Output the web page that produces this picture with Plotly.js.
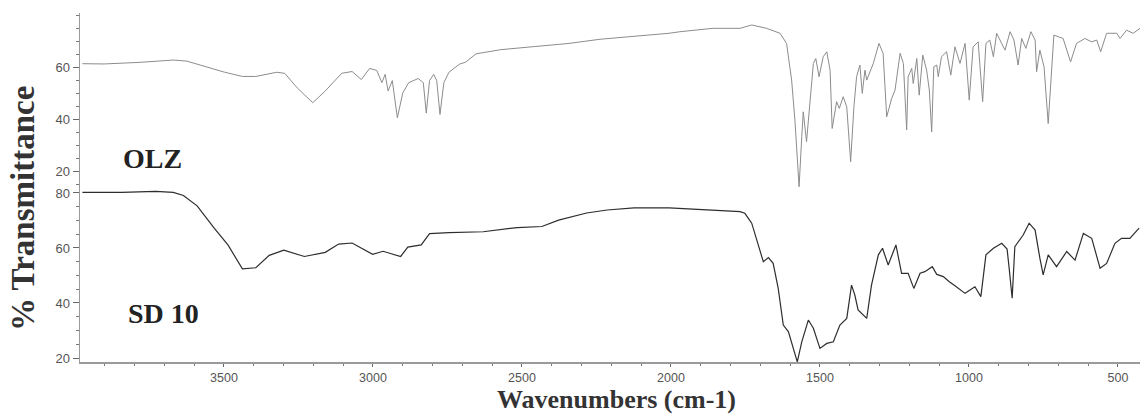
<!DOCTYPE html>
<html>
<head>
<meta charset="utf-8">
<script src="https://cdn.plot.ly/plotly-3.0.1.min.js"></script>
<style>html,body{margin:0;padding:0;background:#fff;}#chart{width:1140px;height:416px;}</style>
</head>
<body>
<div id="chart"></div>
<script>
// OLZ spectrum (top panel): wavenumber (cm-1) and % transmittance
const olzWave = [3975,3902,3785,3670,3625,3556,3497,3438,3393,3323,3296,3254,3202,3160,3105,3070,3039,3011,2987,2970,2959,2949,2935,2918,2900,2880,2848,2831,2821,2810,2796,2786,2775,2762,2745,2710,2689,2654,2571,2457,2342,2238,2124,2006,1970,1859,1768,1729,1679,1634,1612,1595,1584,1570,1561,1556,1545,1534,1522,1514,1503,1489,1477,1466,1459,1444,1435,1422,1410,1397,1386,1377,1366,1358,1349,1343,1321,1302,1288,1276,1259,1248,1231,1220,1209,1204,1192,1187,1175,1167,1155,1142,1133,1125,1118,1108,1103,1092,1075,1061,1047,1030,1013,999,986,969,954,943,930,918,907,879,862,849,835,823,809,792,778,773,762,748,734,715,684,659,639,611,588,571,558,538,504,493,471,449,426];
const olzT = [61.3,61.2,61.8,62.7,62.3,59.9,58.0,56.4,56.4,58.0,57.6,52.0,46.3,50.8,57.6,58.3,55.2,59.5,58.7,54.0,57.2,50.8,54.8,40.5,50.0,54.0,55.6,54.0,42.3,54.8,57.2,54.8,41.8,54.0,58.0,61.1,61.9,65.1,66.7,67.9,69.1,70.7,71.8,73.0,73.6,74.9,74.9,76.2,74.9,73.0,69.1,55.0,39.6,14.0,33.2,42.8,31.3,46.2,61.4,63.3,56.3,64.0,65.9,58.8,36.4,46.7,44.1,48.6,44.7,23.6,44.7,56.3,60.8,49.9,58.8,55.0,61.4,69.1,65.3,40.9,48.0,51.2,65.3,61.4,35.8,56.3,59.5,53.7,63.3,49.2,64.6,58.8,51.2,35.1,60.1,60.8,56.3,64.0,65.9,56.9,67.8,61.4,69.1,47.3,67.8,69.7,46.7,69.1,70.4,64.0,73.0,66.5,73.6,70.4,60.8,71.0,67.2,73.6,70.4,58.2,66.5,60.1,38.3,72.3,71.0,62.0,69.1,71.0,69.7,70.4,65.9,73.0,73.0,71.0,74.2,73.0,74.9];

// SD 10 spectrum (bottom panel)
const sdWave = [3975,3843,3729,3670,3636,3590,3532,3486,3438,3393,3348,3299,3230,3160,3115,3070,3001,2966,2907,2883,2838,2810,2745,2630,2516,2433,2377,2283,2214,2124,2006,1970,1858,1768,1752,1729,1707,1690,1673,1657,1640,1623,1606,1590,1576,1561,1539,1522,1500,1477,1455,1433,1410,1394,1383,1372,1343,1327,1304,1290,1271,1245,1226,1204,1185,1164,1148,1123,1108,1086,1066,1047,1013,980,960,943,918,890,872,865,855,846,818,798,778,762,751,734,706,672,644,616,588,560,538,510,488,460,429];
const sdT = [80.2,80.2,80.6,80.2,79.1,75.3,67.1,61.0,52.4,52.8,57.3,59.2,56.9,58.4,61.4,61.8,57.7,58.8,56.9,60.3,61.1,65.2,65.6,65.9,67.4,67.8,70.1,72.7,73.8,74.6,74.6,74.4,73.8,73.2,72.6,69.0,61.1,55.0,56.5,54.4,45.3,32.0,29.6,23.5,18.6,25.9,33.8,30.8,23.5,25.3,25.9,32.0,34.4,46.5,42.9,37.5,34.4,46.5,57.5,59.9,53.8,61.1,50.8,50.8,45.3,50.8,51.4,53.2,50.4,49.6,47.7,46.3,43.5,45.9,42.3,57.5,59.9,61.7,59.6,52.6,41.7,60.5,64.7,69.0,66.5,56.3,50.2,57.5,53.2,58.7,55.6,65.3,63.5,52.6,54.4,61.7,63.5,63.5,67.2];

// Tick labels and text
const xTicks = [3500,3000,2500,2000,1500,1000,500];
const yTicksTop = [20,40,60];
const yTicksBottom = [20,40,60,80];
const labelTop = "OLZ";
const labelBottom = "SD 10";
const xTitle = "Wavenumbers (cm-1)";
const yTitle = "% Transmittance";

const traces = [
  {x: olzWave, y: olzT, type: 'scatter', mode: 'lines', xaxis: 'x', yaxis: 'y2',
   line: {color: '#8c8c8c', width: 1}, hoverinfo: 'skip'},
  {x: sdWave, y: sdT, type: 'scatter', mode: 'lines', xaxis: 'x', yaxis: 'y',
   line: {color: '#2e2e2e', width: 1.2}, hoverinfo: 'skip'}
];

const tickFont = {family: 'Liberation Sans, Arial, sans-serif', size: 13, color: '#555'};
const xTickFont = {family: 'Liberation Sans, Arial, sans-serif', size: 12.5, color: '#555'};
const split = 0.4986;
const yCommon = {
  showline: true, linecolor: '#9a9a9a', linewidth: 1.5, showgrid: false, zeroline: false,
  ticks: 'outside', ticklen: 6, tickcolor: '#666', tickfont: tickFont,
  minor: {dtick: 5, ticks: 'outside', ticklen: 3, tickcolor: '#777'}, anchor: 'x'
};

const layout = {
  width: 1140, height: 416,
  margin: {l: 80, r: 0, t: 13, b: 54},
  paper_bgcolor: '#fff', plot_bgcolor: '#fff',
  showlegend: false,
  xaxis: {
    range: [3983, 426], tickvals: xTicks, ticktext: xTicks.map(String),
    showline: true, linecolor: '#9a9a9a', linewidth: 1.5, showgrid: false, zeroline: false,
    ticks: 'outside', ticklen: 3, tickcolor: '#666', tickfont: xTickFont, ticklabelstandoff: 0,
    minor: {dtick: 100, ticks: 'outside', ticklen: 2, tickcolor: '#777'}, anchor: 'y'
  },
  yaxis: Object.assign({}, yCommon, {domain: [0, split], range: [18.55, 81.8], tickvals: yTicksBottom}),
  yaxis2: Object.assign({}, yCommon, {domain: [split, 1], range: [13.5, 80.8], tickvals: yTicksTop}),
  annotations: [
    {text: yTitle, xref: 'paper', yref: 'paper', x: -0.0538, y: 0.441, xanchor: 'center', yanchor: 'middle',
     textangle: -90, showarrow: false, font: {family: 'Liberation Serif, Times New Roman, serif', size: 33, color: '#333', weight: 'bold'}},
    {text: xTitle, xref: 'paper', yref: 'paper', x: 0.506, y: -0.1547, xanchor: 'center', yanchor: 'bottom',
     showarrow: false, font: {family: 'Liberation Serif, Times New Roman, serif', size: 26, color: '#333', weight: 'bold'}},
    {text: labelTop, xref: 'paper', yref: 'paper', x: 0.068, y: 0.5845, xanchor: 'center', yanchor: 'middle',
     showarrow: false, font: {family: 'Liberation Serif, Times New Roman, serif', size: 28, color: '#222', weight: 'bold'}},
    {text: labelBottom, xref: 'paper', yref: 'paper', x: 0.0792, y: 0.1404, xanchor: 'center', yanchor: 'middle',
     showarrow: false, font: {family: 'Liberation Serif, Times New Roman, serif', size: 28, color: '#222', weight: 'bold'}}
  ]
};

Plotly.newPlot('chart', traces, layout, {staticPlot: true, displayModeBar: false});
</script>
</body>
</html>
